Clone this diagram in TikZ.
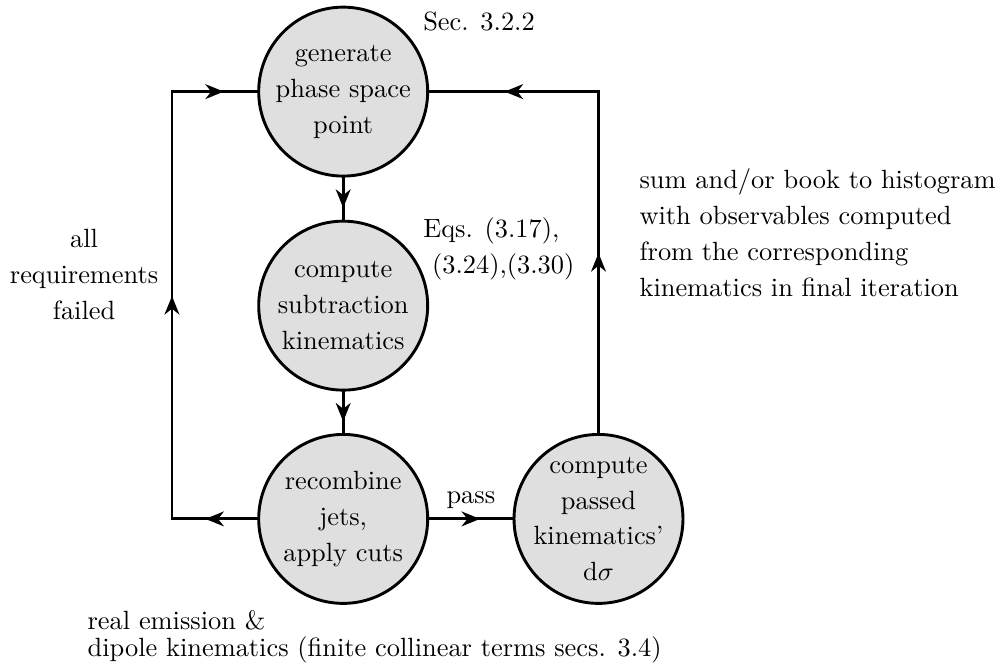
\documentclass[tikz,border=0pt]{standalone}
\usetikzlibrary{arrows.meta,decorations.markings}
\tikzset{
  proc/.style={circle,draw,line width=1.1pt,fill=gray!25,minimum size=2.25cm,inner sep=-4pt,align=center,font=\fontsize{10}{13.6}\selectfont},
  flow/.style={line width=1.1pt,line cap=rect,postaction={decorate},decoration={markings,mark=at position 0.5 with {\arrow[xshift=3.5pt]{Stealth[length=7pt,width=5.6pt,inset=2.2pt]}}}},
  note/.style={inner sep=0pt,font=\fontsize{10}{13.6}\selectfont}
}
\begin{document}
\begin{tikzpicture}
\useasboundingbox (0,0) rectangle (13.37,-8.83);
% the four steps
\node[proc] (gen) at (4.57,-1.22) {generate\\phase space\\point};
\node[proc] (sub) at (4.57,-4.07) {compute\\subtraction\\kinematics};
\node[proc] (rec) at (4.57,-6.91) {recombine\\jets,\\apply cuts};
\node[proc] (pas) at (7.97,-6.91) {compute\\passed\\kinematics'\\$\mathrm{d}\sigma$};
% loop corners
\coordinate (lb) at (2.29,-6.91);\coordinate (lt) at (2.29,-1.22);\coordinate (rt) at (7.97,-1.22);
\draw[flow] (gen) -- (sub);\draw[flow] (sub) -- (rec);
\draw[flow] (rec) -- node[above,font=\fontsize{10}{13.6}\selectfont] (pass) {pass} (pas);
\draw[flow] (rec) -- (lb);\draw[flow] (lb) -- (lt);\draw[flow] (lt) -- (gen);
\draw[flow] (pas) -- (rt);\draw[flow] (rt) -- (gen);
% notes
\node[note,anchor=base west] (sec) at (5.63,-0.40) {Sec. 3.2.2};
\node[note,anchor=north west,align=left] (eqs) at (5.63,-2.89) {Eqs. (3.17),\\~(3.24),(3.30)};
\node[note,anchor=north west,align=left] (book) at (8.51,-2.24) {sum and/or book to histogram\\with observables computed\\from the corresponding\\kinematics in final iteration};
\node[note,anchor=north,align=center] (fail) at (1.12,-3.05) {all\\requirements\\failed};
\node[note,anchor=north west,align=left,font=\fontsize{10}{10.2}\selectfont] (real) at (1.16,-8.12) {real emission \&\\dipole kinematics (finite collinear terms secs. 3.4)};
\end{tikzpicture}
\end{document}
